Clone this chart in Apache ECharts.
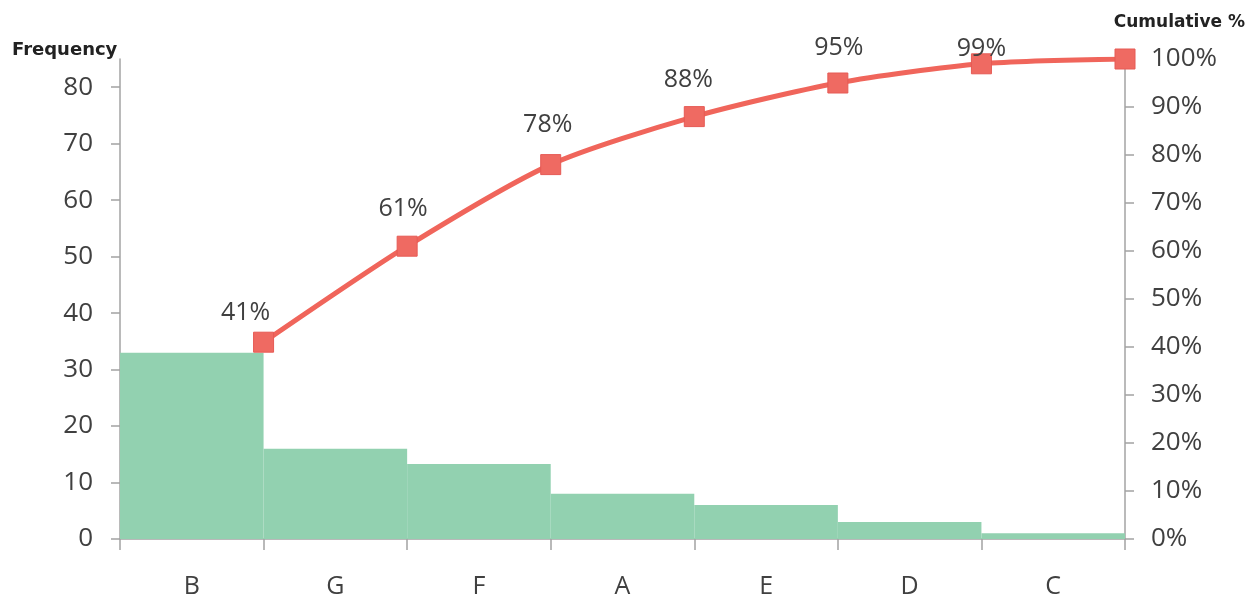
<!DOCTYPE html>
<html>
<head>
<meta charset="utf-8">
<script src="https://cdn.jsdelivr.net/npm/echarts@6/dist/echarts.min.js"></script>
<style>
html,body{margin:0;padding:0;background:#fff;}
#chart{width:1259px;height:603px;}
</style>
</head>
<body>
<div id="chart"></div>
<script>
// ---- data ----
var categories = ['B', 'G', 'F', 'A', 'E', 'D', 'C'];
var frequency = [33, 16, 13.3, 8, 6, 3, 1];
var cumulativePct = [41, 61, 78, 88, 95, 99, 100];
var cumulativeLabels = ['41%', '61%', '78%', '88%', '95%', '99%', ''];
var leftTicks = [0, 10, 20, 30, 40, 50, 60, 70, 80];
var rightTicks = [0, 10, 20, 30, 40, 50, 60, 70, 80, 90, 100];

// label nudges (style only)
var labelOffsets = [[-18, -1], [-4, -9], [-3, -12], [-6, -9], [1, -7], [0, 13], [0, 0]];

var txt = '#404040';
var axisCol = '#a3a3a3';
var font = 'Open Sans';

var lineData = cumulativePct.map(function (v, i) {
  return {
    value: [i + 1, v],
    label: {
      show: cumulativeLabels[i] !== '',
      formatter: cumulativeLabels[i],
      offset: labelOffsets[i]
    }
  };
});

var chart = echarts.init(document.getElementById('chart'), null, {renderer: 'canvas'});
chart.setOption({
  animation: false,
  backgroundColor: '#ffffff',
  title: [
    {text: 'Frequency', left: 7, top: 36,
     textStyle: {fontFamily: 'DejaVu Sans', fontWeight: 'bold', fontSize: 18, color: '#222'}},
    {text: 'Cumulative %', right: 9, top: 9,
     textStyle: {fontFamily: 'DejaVu Sans', fontWeight: 'bold', fontSize: 17, color: '#222'}}
  ],
  grid: {left: 120, right: 134, top: 59, bottom: 64, containLabel: false},
  xAxis: [
    {
      type: 'category',
      data: categories,
      boundaryGap: true,
      offset: 9,
      axisLine: {show: true, lineStyle: {color: axisCol, width: 1.5}},
      axisTick: {show: true, length: 11, lineStyle: {color: axisCol, width: 1.5}},
      axisLabel: {color: txt, fontFamily: font, fontSize: 25, margin: 26},
      splitLine: {show: false}
    },
    {
      type: 'value', min: 0, max: 7, show: false
    }
  ],
  yAxis: [
    {
      type: 'value', position: 'left', min: 0, max: 85,
      axisLine: {show: true, lineStyle: {color: axisCol, width: 1.5}},
      axisTick: {show: true, length: 9, customValues: leftTicks, lineStyle: {color: axisCol, width: 1.5}},
      axisLabel: {color: txt, fontFamily: font, fontSize: 26, margin: 27, customValues: leftTicks},
      splitLine: {show: false}
    },
    {
      type: 'value', position: 'right', min: 0, max: 100,
      axisLine: {show: true, lineStyle: {color: axisCol, width: 1.5}},
      axisTick: {show: true, length: 9, customValues: rightTicks, lineStyle: {color: axisCol, width: 1.5}},
      axisLabel: {color: txt, fontFamily: font, fontSize: 26, margin: 26, customValues: rightTicks,
                  formatter: function (v) { return v + '%'; }},
      splitLine: {show: false}
    }
  ],
  series: [
    {
      type: 'bar',
      xAxisIndex: 0, yAxisIndex: 0,
      data: frequency,
      barWidth: '100%',
      barGap: '0%',
      itemStyle: {color: '#92d1b0'},
      z: 2
    },
    {
      type: 'line',
      xAxisIndex: 1, yAxisIndex: 1,
      data: lineData,
      smooth: 0.25,
      symbol: 'rect',
      symbolSize: 20,
      lineStyle: {color: '#f0655b', width: 5},
      itemStyle: {color: '#ef6a62', borderColor: '#e65a55', borderWidth: 1},
      label: {show: true, position: 'top', distance: 5, color: txt, fontFamily: font, fontSize: 25},
      z: 5
    }
  ]
});
</script>
</body>
</html>
